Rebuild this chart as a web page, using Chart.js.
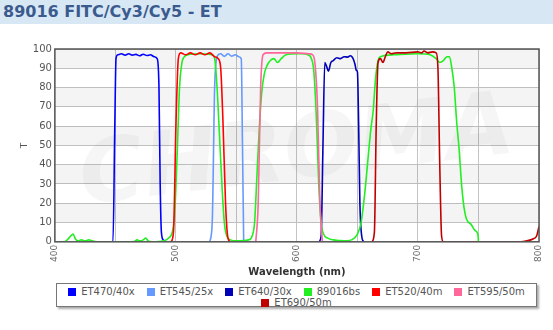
<!DOCTYPE html>
<html>
<head>
<meta charset="utf-8">
<script src="https://cdn.jsdelivr.net/npm/chart.js@4.4.1/dist/chart.umd.min.js"></script>
<style>
  body { margin: 0; width: 553px; height: 330px; background: #fff; overflow: hidden; font-family: 'DejaVu Sans', Verdana, sans-serif; position: relative; }
  #header { position: absolute; left: 0; top: 0; width: 553px; height: 24px; background: #d8e7f4; }
  #header span { position: absolute; left: 3px; top: 2px; font-size: 16px; font-weight: bold; color: #3b5b8e; }
  #chartBox { position: absolute; left: 0; top: 24px; width: 553px; height: 256px; }
  #legend { position: absolute; left: 56px; top: 283px; width: 481px; height: 24px; border: 1px solid #777; box-shadow: 2px 2px 2px #aaa; display: flex; flex-wrap: wrap; justify-content: center; align-content: flex-start; column-gap: 12px; padding-top: 2px; box-sizing: border-box; }
  .item { display: flex; align-items: center; font-size: 10px; color: #555; height: 11px; line-height: 11px; }
  .sw { width: 8px; height: 8px; margin-right: 5px; }
</style>
</head>
<body>
<div id="header"><span>89016 FITC/Cy3/Cy5 - ET</span></div>
<div id="chartBox"><canvas id="chart"></canvas></div>
<div id="legend"></div>
<script>
// 数据：波长 (nm) 与透过率 T (%)
const et470Nm = [445, 448, 449.5, 450.5, 452, 455, 458, 461, 464, 467, 470, 473, 476, 479, 482, 484.5, 486, 487, 488, 489.5, 491];
const et470T  = [0, 0, 60, 95, 97, 97.5, 96.8, 97.5, 96.8, 97.2, 96.5, 97.3, 96.6, 97, 96, 95, 80, 30, 5, 1, 0];

const et545Nm = [528, 530, 532, 534, 537, 540, 543, 546, 549, 552, 554, 555, 556];
const et545T  = [0, 10, 80, 96, 97.5, 96.2, 97.5, 96.3, 97, 96, 95, 50, 0];

const et640Nm = [618, 620, 621.5, 623, 624.5, 626, 628, 630, 633, 636, 639, 642, 644, 646, 648, 649, 650, 651, 652, 653.5, 655];
const et640T  = [0, 3, 50, 93, 91, 88.5, 93, 94, 95.5, 95, 96, 95.8, 96.5, 95.5, 92, 89, 88, 60, 20, 3, 0];

const bsNm = [400, 408, 411, 413, 415, 417, 419, 422, 425, 428, 431, 435, 465, 468, 470, 473, 475, 477, 480, 490, 494, 497, 499, 501, 503, 505, 507, 510, 520, 530, 532, 534, 536, 538, 540, 542, 545, 550, 560, 563, 565, 567, 569, 571, 573, 575, 578, 581, 584, 587, 591, 600, 605, 609, 612, 614, 616, 618, 620, 622, 625, 630, 640, 645, 650, 653, 656, 659, 661, 663, 665, 667, 669, 680, 700, 710, 715, 718, 721, 724, 726, 728, 730, 732, 734, 736, 738, 740, 744, 747, 749.5, 750];
const bsT  = [0, 0, 1.5, 3, 4, 1.5, 0.5, 1, 0.5, 1, 0.5, 0, 0, 1, 0.5, 1, 2, 0.5, 0, 0.5, 2, 5, 15, 45, 80, 93, 96, 97, 97.5, 97, 95, 80, 55, 30, 10, 3, 1, 0.5, 1, 3, 10, 35, 60, 78, 87, 91, 94, 95, 93, 95, 97, 97.5, 97.5, 97, 95, 88, 65, 30, 10, 4, 2, 1, 0.5, 1, 4, 10, 25, 45, 58, 68, 85, 94, 96, 97, 97.5, 97, 95, 93, 94, 96, 96, 90, 80, 62, 48, 30, 18, 12, 9, 6, 4, 0];

const et520Nm = [496, 498, 500, 502, 504, 508, 512, 516, 520, 524, 528, 532, 535, 537, 539, 541, 543, 545];
const et520T  = [0, 5, 60, 95, 98, 97, 98, 97, 98, 97, 98, 96, 95, 90, 60, 20, 2, 0];

const et595Nm = [566, 568, 570, 572, 575, 590, 600, 610, 613, 615, 617, 619, 621];
const et595T  = [0, 20, 80, 97, 98, 98, 98, 97.5, 97, 92, 70, 20, 0];

const et690Nm = [662, 664, 665.5, 667, 669, 671, 673, 675, 678, 682, 690, 700, 703, 705, 708, 712, 715, 716.5, 718, 719.5, 721, 785, 790, 795, 798, 800];
const et690T  = [0, 5, 60, 93, 95, 93, 96, 98.5, 97.5, 98, 98, 98.5, 98, 99, 98, 98.5, 98, 90, 40, 3, 0, 0, 0.5, 1.5, 3, 8];

const seriesNames  = ['ET470/40x', 'ET545/25x', 'ET640/30x', '89016bs', 'ET520/40m', 'ET595/50m', 'ET690/50m'];
const seriesColors = ['#0000ff', '#6699ff', '#0000b8', '#22ee22', '#ff0000', '#ff6699', '#c00000'];
const seriesNm = [et470Nm, et545Nm, et640Nm, bsNm, et520Nm, et595Nm, et690Nm];
const seriesT  = [et470T, et545T, et640T, bsT, et520T, et595T, et690T];

const yTicks = [0, 10, 20, 30, 40, 50, 60, 70, 80, 90, 100];
const xLabels = [400, 500, 600, 700, 800];

// 交替的横向色带 + 外框
const bandPlugin = {
  id: 'bands',
  beforeDatasetsDraw(chart) {
    const { ctx, chartArea: a, scales: { y } } = chart;
    ctx.save();
    ctx.fillStyle = 'rgba(0,0,0,0.045)';
    for (let v = 10; v < 100; v += 20) {
      const top = y.getPixelForValue(v + 10), bot = y.getPixelForValue(v);
      ctx.fillRect(a.left, top, a.right - a.left, bot - top);
    }
    // 水印
    ctx.translate((a.left + a.right) / 2, (a.top + a.bottom) / 2 + 10);
    ctx.rotate(-0.12);
    ctx.font = 'italic bold 88px "DejaVu Sans"';
    ctx.fillStyle = 'rgba(0,0,0,0.035)';
    ctx.textAlign = 'center';
    ctx.textBaseline = 'middle';
    ctx.fillText('CHROMA', 0, 0);
    ctx.restore();
  },
  afterDatasetsDraw(chart) {
    const { ctx, chartArea: a } = chart;
    ctx.save();
    ctx.strokeStyle = '#555';
    ctx.lineWidth = 1.5;
    ctx.strokeRect(a.left, a.top, a.right - a.left, a.bottom - a.top);
    ctx.restore();
  }
};

const datasets = seriesNames.map((name, i) => ({
  label: name,
  data: seriesNm[i].map((nm, k) => ({ x: nm, y: seriesT[i][k] })),
  borderColor: seriesColors[i],
  backgroundColor: seriesColors[i],
  borderWidth: 1.6,
  pointRadius: 0,
  cubicInterpolationMode: 'monotone',
  order: -i
}));

const chart = new Chart(document.getElementById('chart'), {
  type: 'line',
  data: { datasets },
  options: {
    responsive: true,
    maintainAspectRatio: false,
    animation: false,
    layout: { padding: { top: 25, right: 14, left: 3, bottom: 0 } },
    plugins: { legend: { display: false }, tooltip: { enabled: false } },
    scales: {
      x: {
        type: 'linear',
        min: 400,
        max: 800,
        border: { display: false },
        grid: { color: '#c4c4c4', lineWidth: 1, drawTicks: false },
        ticks: {
          stepSize: 50,
          autoSkip: false,
          minRotation: 90,
          maxRotation: 90,
          padding: 3,
          color: '#666',
          font: { family: 'DejaVu Sans', size: 9 },
          callback: v => xLabels.includes(v) ? String(v) : ''
        },
        title: { display: true, text: 'Wavelength (nm)', color: '#333', padding: { top: 1, bottom: 2 }, font: { family: 'DejaVu Sans', size: 10, weight: 'bold' } }
      },
      y: {
        min: 0,
        max: 100,
        border: { display: false },
        grid: { color: '#c4c4c4', lineWidth: 1, drawTicks: false },
        afterBuildTicks: axis => { axis.ticks = yTicks.map(v => ({ value: v })); },
        ticks: { padding: 3, color: '#555', font: { family: 'DejaVu Sans', size: 10 } },
        title: { display: true, text: 'T', color: '#555', padding: { top: 16, bottom: 0 }, font: { family: 'DejaVu Sans', size: 9 } }
      }
    }
  },
  plugins: [bandPlugin]
});

// 图例
document.getElementById('legend').innerHTML = seriesNames.map((n, i) =>
  `<div class="item"><div class="sw" style="background:${seriesColors[i]}"></div>${n}</div>`).join('');
</script>
</body>
</html>
